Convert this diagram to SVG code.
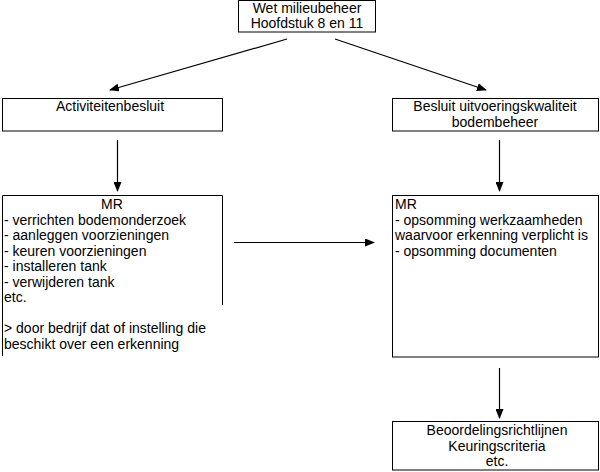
<svg xmlns="http://www.w3.org/2000/svg" width="600" height="472" viewBox="0 0 600 472">
<style>
.box{fill:#fff;stroke:#000;stroke-width:1}
.edge{fill:none;stroke:#000;stroke-width:1}
.c{stroke:#000;stroke-width:1.2;fill:none;marker-end:url(#ah)}
text{font-family:"Liberation Sans",Arial,sans-serif;font-size:14px;fill:#000}
.m{text-anchor:middle}
</style>
<defs>
<marker id="ah" markerWidth="10" markerHeight="8" refX="9" refY="4" orient="auto" markerUnits="userSpaceOnUse">
<path d="M0,0 L10,4 L0,8 Z" fill="#000"/>
</marker>
</defs>
<rect width="600" height="472" fill="#fff"/>
<g id="connectors">
<line class="c" x1="287" y1="39" x2="110" y2="90"/>
<line class="c" x1="335" y1="39" x2="486" y2="90"/>
<line class="c" x1="117.5" y1="140" x2="117.5" y2="191"/>
<line class="c" x1="499.5" y1="140" x2="499.5" y2="191"/>
<line class="c" x1="234" y1="242.5" x2="374" y2="242.5"/>
<line class="c" x1="499.5" y1="368" x2="499.5" y2="418"/>
</g>
<g id="wet">
<rect class="box" x="238.5" y="0.5" width="137" height="31.5"/>
<text class="m" x="307" y="13">Wet milieubeheer</text>
<text class="m" x="307" y="28">Hoofdstuk 8 en 11</text>
</g>
<g id="activiteitenbesluit">
<rect class="box" x="2.5" y="98.5" width="220" height="32.5"/>
<text class="m" x="110" y="111">Activiteitenbesluit</text>
</g>
<g id="besluit">
<rect class="box" x="392.5" y="98.5" width="206" height="32.5"/>
<text class="m" x="495" y="111">Besluit uitvoeringskwaliteit</text>
<text class="m" x="495" y="127">bodembeheer</text>
</g>
<g id="mr-left">
<path class="edge" d="M2.5,356 V195.5 H222.5 V305"/>
<text class="m" x="112" y="209">MR</text>
<text x="4" y="225">- verrichten bodemonderzoek</text>
<text x="4" y="240">- aanleggen voorzieningen</text>
<text x="4" y="256">- keuren voorzieningen</text>
<text x="4" y="271">- installeren tank</text>
<text x="4" y="287">- verwijderen tank</text>
<text x="4" y="302">etc.</text>
<text x="4" y="333">&gt; door bedrijf dat of instelling die</text>
<text x="4" y="349">beschikt over een erkenning</text>
</g>
<g id="mr-right">
<rect class="box" x="392.5" y="195.5" width="206" height="161.5"/>
<text x="395" y="209">MR</text>
<text x="395" y="225">- opsomming werkzaamheden</text>
<text x="395" y="240">waarvoor erkenning verplicht is</text>
<text x="395" y="256">- opsomming documenten</text>
</g>
<g id="beoordeling">
<rect class="box" x="392.5" y="421.5" width="206" height="48.5"/>
<text class="m" x="497" y="435">Beoordelingsrichtlijnen</text>
<text class="m" x="497" y="451">Keuringscriteria</text>
<text class="m" x="497" y="466">etc.</text>
</g>
</svg>
